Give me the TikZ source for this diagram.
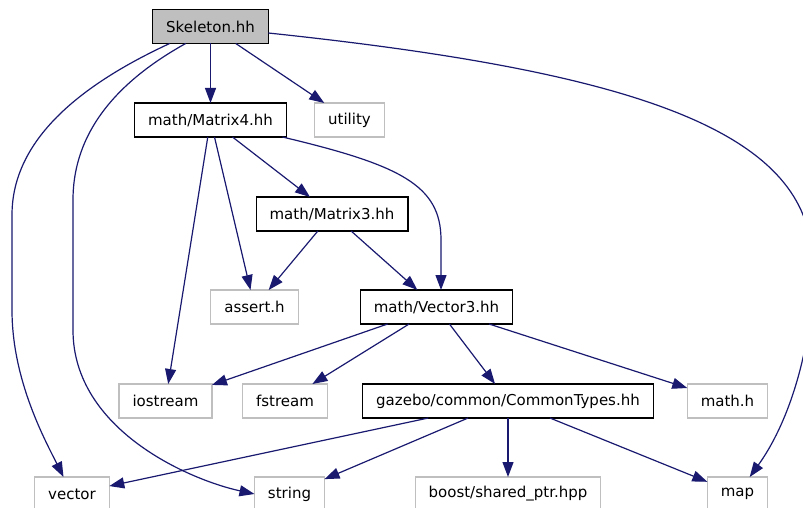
\documentclass[tikz,border=0pt]{standalone}
\usepackage{fontspec}
\setmainfont{DejaVu Sans}
\usetikzlibrary{arrows.meta}
\definecolor{edgeblue}{RGB}{25,25,112}
\definecolor{sysgray}{RGB}{191,191,191}

\begin{document}
\begin{tikzpicture}[x=1pt,y=-1pt,
    font=\fontsize{15}{18}\selectfont,
    hdr/.style={draw=black,line width=1.2pt,minimum height=34pt,inner xsep=13.5pt,inner ysep=0pt,outer sep=0pt},
    sys/.style={hdr,draw=sysgray},
    dep/.style={edgeblue,line width=1.2pt,-{Triangle[length=15pt,width=11pt]}}]
        \useasboundingbox (0,0) rectangle (803,508);
        \node[hdr,fill=sysgray] (skel) at (210.5,26.5) {Skeleton.hh};
        \node[hdr] (m4)   at (210.5,120) {math/Matrix4.hh};
        \node[sys] (util) at (349.5,120) {utility};
        \node[hdr] (m3)   at (332,214)   {math/Matrix3.hh};
        \node[sys] (asrt) at (254.5,307) {assert.h};
        \node[hdr] (v3)   at (436.5,307) {math/Vector3.hh};
        \node[sys] (ios)  at (165.5,401) {iostream};
        \node[sys] (fst)  at (285,401)   {fstream};
        \node[hdr] (ct)   at (508,401)   {gazebo/common/CommonTypes.hh};
        \node[sys] (mth)  at (727.5,401) {math.h};
        \node[sys] (vec)  at (72,494)    {vector};
        \node[sys] (str)  at (289.5,494) {string};
        \node[sys] (bsp)  at (508,494)   {boost/shared\_ptr.hpp};
        \node[sys] (map)  at (737.5,494) {map};
        \draw[dep] (skel) -- (m4);
        \draw[dep] (skel) -- (util);
        \draw[dep] ([xshift=17pt]skel.south west) .. controls (80,85) and (12,140) .. (12,215)
          -- (12,310) .. controls (12,380) and (45,440) .. (vec);
        \draw[dep] ([xshift=33pt]skel.south west) .. controls (120,80) and (73,130) .. (73,200)
          -- (73,330) .. controls (73,430) and (190,480) .. (str.west);
        \draw[dep] ([yshift=-6.5pt]skel.east) .. controls (600,68) and (780,120) .. (808,230)
          .. controls (822,285) and (805,400) .. (map);
        \draw[dep] (m4) -- (ios);
        \draw[dep] (m4) -- (asrt);
        \draw[dep] (m4) -- (m3);
        \draw[dep] ([xshift=-4pt]m4.south east) .. controls (400,165) and (441,185) .. (441,240)
          -- ([xshift=4.5pt]v3.north);
        \draw[dep] (m3) -- (asrt);
        \draw[dep] (m3) -- (v3);
        \draw[dep] (v3) -- (ios);
        \draw[dep] (v3) -- (fst);
        \draw[dep] (v3) -- (ct);
        \draw[dep] (v3) -- (mth);
        \draw[dep] (ct) -- (vec);
        \draw[dep] (ct) -- (str);
        \draw[dep] (ct) -- (bsp);
        \draw[dep] (ct) -- (map);
\end{tikzpicture}
\end{document}
